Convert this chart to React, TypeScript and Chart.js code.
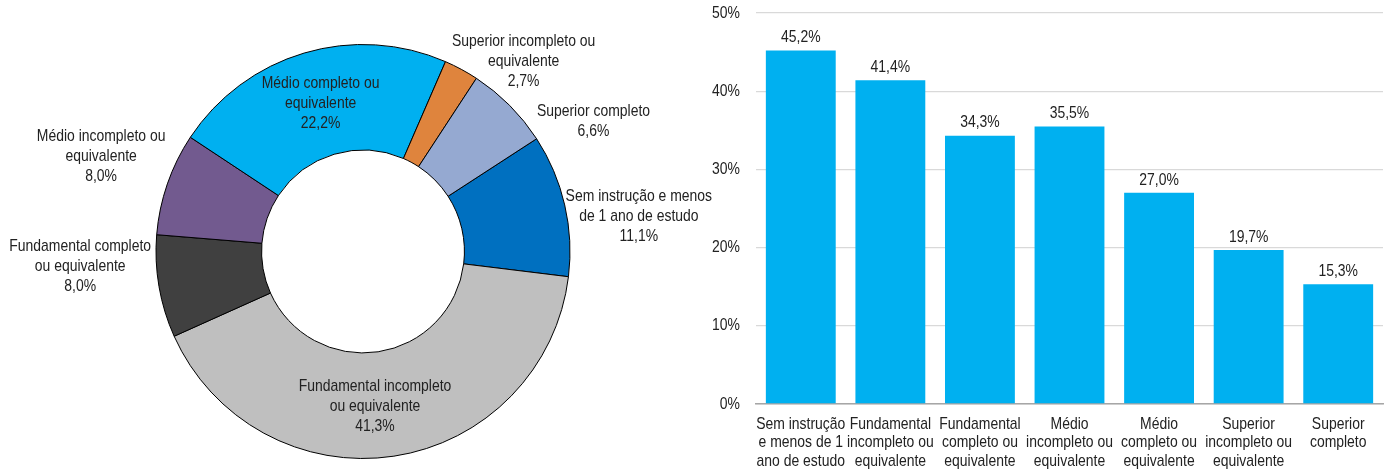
import React, { useEffect, useRef } from 'react';
import { Chart, registerables } from 'chart.js';

Chart.register(...registerables);

// ---- Data ----
const pieCategories: string[][] = [
  ['Sem instrução e menos', 'de 1 ano de estudo'],
  ['Fundamental incompleto', 'ou equivalente'],
  ['Fundamental completo', 'ou equivalente'],
  ['Médio incompleto ou', 'equivalente'],
  ['Médio completo ou', 'equivalente'],
  ['Superior incompleto ou', 'equivalente'],
  ['Superior completo'],
];
const pieValues: number[] = [11.1, 41.3, 8.0, 8.0, 22.2, 2.7, 6.6];

const barCategories: string[][] = [
  ['Sem instrução', 'e menos de 1', 'ano de estudo'],
  ['Fundamental', 'incompleto ou', 'equivalente'],
  ['Fundamental', 'completo ou', 'equivalente'],
  ['Médio', 'incompleto ou', 'equivalente'],
  ['Médio', 'completo ou', 'equivalente'],
  ['Superior', 'incompleto ou', 'equivalente'],
  ['Superior', 'completo'],
];
const barValues: number[] = [45.2, 41.4, 34.3, 35.5, 27.0, 19.7, 15.3];
const yTickValues: number[] = [0, 10, 20, 30, 40, 50];

// ---- Styles / layout ----
const pieColors = ['#0070C0', '#BFBFBF', '#404040', '#725A8F', '#00B0F0', '#DF843D', '#95A9D1'];
// label anchor offsets from the doughnut centre, in pixels for a 207.5px outer radius
const pieLabelOffsets: number[][] = [
  [276.5, -35.5],
  [12, 155.5],
  [-283.5, 14.5],
  [-262.5, -95.5],
  [-42.5, -148.5],
  [161, -190.5],
  [231, -131],
];
const FONT = '"Liberation Sans", Arial, sans-serif';
const FS = 17;
const SX = 0.82; // horizontal condensing of text (narrow look)
const TEXT = '#222222';
const fmt = (v: number) => v.toFixed(1).replace('.', ',') + '%';

function drawText(ctx: CanvasRenderingContext2D, s: string, x: number, y: number, align: CanvasTextAlign) {
  ctx.save();
  ctx.translate(x, y);
  ctx.scale(SX, 1);
  ctx.font = `${FS}px ${FONT}`;
  ctx.fillStyle = TEXT;
  ctx.textAlign = align;
  ctx.textBaseline = 'middle';
  ctx.fillText(s, 0, 0);
  ctx.restore();
}

const pieLabelPlugin = {
  id: 'pieLabels',
  afterDraw(chart: any) {
    const meta = chart.getDatasetMeta(0);
    const ctx = chart.ctx;
    const lh = 20;
    meta.data.forEach((arc: any, i: number) => {
      const k = arc.outerRadius / 207.5;
      const cx = arc.x + pieLabelOffsets[i][0] * k;
      const cy = arc.y + pieLabelOffsets[i][1] * k;
      const lines = [...pieCategories[i], fmt(pieValues[i])];
      const start = cy - ((lines.length - 1) * lh) / 2;
      lines.forEach((ln, j) => drawText(ctx, ln, cx, start + j * lh, 'center'));
    });
  },
};

const barLabelPlugin = {
  id: 'barLabels',
  afterDraw(chart: any) {
    const ctx = chart.ctx;
    const meta = chart.getDatasetMeta(0);
    meta.data.forEach((bar: any, i: number) => {
      drawText(ctx, fmt(barValues[i]), bar.x, bar.y - 13, 'center');
    });
    const y = chart.scales.y;
    const x = chart.scales.x;
    yTickValues.forEach((v) => {
      drawText(ctx, v + '%', chart.chartArea.left - 16, y.getPixelForValue(v), 'right');
    });
    const lh = 18.5;
    barCategories.forEach((lines, i) => {
      const px = x.getPixelForValue(i);
      lines.forEach((ln, j) => drawText(ctx, ln, px, chart.chartArea.bottom + 20 + j * lh, 'center'));
    });
  },
};

export default function App() {
  const pieRef = useRef<HTMLCanvasElement>(null);
  const barRef = useRef<HTMLCanvasElement>(null);

  useEffect(() => {
    const pie = new Chart(pieRef.current as HTMLCanvasElement, {
      type: 'doughnut',
      data: {
        labels: pieCategories.map((l) => l.join(' ')),
        datasets: [
          {
            data: pieValues,
            backgroundColor: pieColors,
            borderColor: '#000000',
            borderWidth: 1,
          },
        ],
      },
      options: {
        responsive: false,
        animation: false,
        rotation: 57,
        cutout: '49%',
        layout: { padding: { top: 44, bottom: 10, left: 0, right: 14 } },
        plugins: { legend: { display: false }, tooltip: { enabled: false } },
      },
      plugins: [pieLabelPlugin],
    });

    const bar = new Chart(barRef.current as HTMLCanvasElement, {
      type: 'bar',
      data: {
        labels: barCategories.map((l) => l.join(' ')),
        datasets: [
          {
            data: barValues,
            backgroundColor: '#00B0F0',
            borderWidth: 0,
            barPercentage: 0.78,
            categoryPercentage: 1,
          },
        ],
      },
      options: {
        responsive: false,
        animation: false,
        layout: { padding: { top: 13, bottom: 0, left: 0, right: 5 } },
        plugins: { legend: { display: false }, tooltip: { enabled: false } },
        scales: {
          x: {
            grid: { display: false, drawTicks: false },
            border: { color: '#A6A6A6', width: 1.5 },
            ticks: { display: false, autoSkip: false },
            afterFit: (s: any) => {
              s.height = 65;
            },
          },
          y: {
            min: 0,
            max: 50,
            afterBuildTicks: (s: any) => {
              s.ticks = yTickValues.map((v) => ({ value: v }));
            },
            grid: { color: '#D9D9D9', lineWidth: 1.3, drawTicks: false },
            border: { display: false },
            ticks: { display: false },
            afterFit: (s: any) => {
              s.width = 56;
            },
          },
        },
      },
      plugins: [barLabelPlugin],
    });

    return () => {
      pie.destroy();
      bar.destroy();
    };
  }, []);

  return (
    <div style={{ position: 'absolute', left: 0, top: 0, width: 1388, height: 469, background: '#ffffff' }}>
      <canvas ref={pieRef} width={740} height={469} style={{ position: 'absolute', left: 0, top: 0 }} />
      <canvas ref={barRef} width={688} height={469} style={{ position: 'absolute', left: 700, top: 0 }} />
    </div>
  );
}
